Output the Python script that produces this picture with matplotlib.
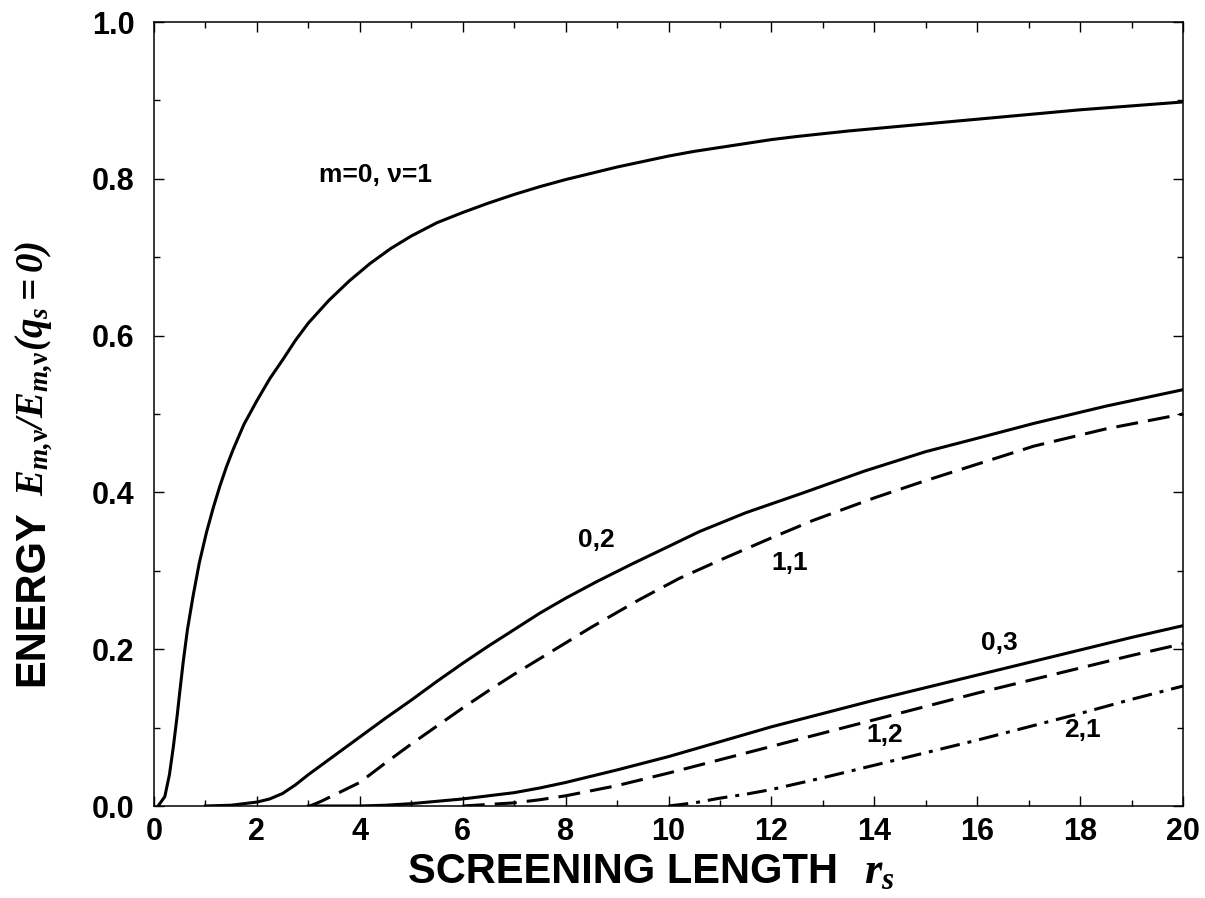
import matplotlib
matplotlib.use('Agg')
import matplotlib.pyplot as plt

# curvas (r_s, E/E0)
x_01 = [0.08, 0.21, 0.3, 0.375, 0.45, 0.5, 0.57, 0.65, 0.76, 0.88, 1.02, 1.15, 1.28, 1.41, 1.54, 1.75,
        2.0, 2.25, 2.5, 2.75, 3.0, 3.4, 3.8, 4.2, 4.6, 5.0, 5.5, 6.0, 6.5, 7.0, 7.5, 8.0, 8.5, 9.0,
        9.5, 10.0, 10.5, 11.0, 11.5, 12.0, 12.5, 13.5, 14.5, 15.5, 16.5, 18.0, 19.0, 20.0]
y_01 = [0.0, 0.012, 0.04, 0.075, 0.115, 0.145, 0.185, 0.225, 0.268, 0.31, 0.349, 0.38, 0.408, 0.433, 0.455, 0.487,
        0.517, 0.545, 0.569, 0.594, 0.616, 0.645, 0.67, 0.692, 0.711, 0.727, 0.744, 0.757, 0.769, 0.78, 0.79, 0.799, 0.807, 0.815,
        0.822, 0.829, 0.835, 0.840, 0.845, 0.850, 0.854, 0.861, 0.867, 0.873, 0.879, 0.888, 0.893, 0.898]

x_02 = [1.0, 1.5, 2.0, 2.25, 2.5, 2.75, 3.0, 3.5, 4.0, 4.5, 5.0, 5.5, 6.0, 6.5, 7.0, 7.5, 8.0, 8.6,
        9.3, 10.0, 10.6, 11.5, 12.6, 13.8, 15.0, 16.0, 17.1, 18.5, 20.0]
y_02 = [0.0, 0.001, 0.005, 0.009, 0.016, 0.027, 0.04, 0.064, 0.088, 0.112, 0.135, 0.159, 0.182, 0.204, 0.225, 0.246, 0.265, 0.286,
        0.309, 0.331, 0.350, 0.374, 0.399, 0.427, 0.452, 0.469, 0.488, 0.51, 0.531]

x_11 = [3.03, 3.25, 3.5, 4.0, 4.5, 5.0, 5.5, 6.0, 6.5, 7.0, 7.7, 8.5, 9.4, 10.2, 11.05, 12.0, 12.8, 14.0,
        14.95, 16.0, 17.1, 18.5, 20.0]
y_11 = [0.0, 0.006, 0.014, 0.03, 0.055, 0.079, 0.102, 0.125, 0.147, 0.168, 0.196, 0.228, 0.262, 0.29, 0.315, 0.342, 0.364, 0.393,
        0.414, 0.436, 0.459, 0.481, 0.50]

x_03 = [3.0, 4.0, 4.5, 5.0, 5.5, 6.0, 6.5, 7.0, 7.5, 8.0, 9.0, 10.0, 11.0, 12.0, 13.0, 14.0, 15.0, 16.0,
        17.0, 18.0, 19.0, 20.0]
y_03 = [0.0, 0.0, 0.001, 0.003, 0.006, 0.009, 0.013, 0.017, 0.023, 0.03, 0.046, 0.063, 0.082, 0.101, 0.118, 0.135, 0.151, 0.167,
        0.183, 0.199, 0.215, 0.23]

x_12 = [6.0, 6.5, 7.0, 7.5, 8.0, 9.0, 10.0, 11.0, 12.0, 13.0, 14.0, 15.0, 16.0, 17.0, 18.0, 19.0, 20.0]
y_12 = [0.0, 0.002, 0.004, 0.008, 0.013, 0.026, 0.042, 0.059, 0.076, 0.093, 0.110, 0.127, 0.144, 0.160, 0.176, 0.192, 0.207]

x_21 = [10.0, 10.5, 11.0, 11.5, 12.0, 13.0, 14.0, 15.0, 16.0, 17.0, 18.0, 19.0, 20.0]
y_21 = [0.0, 0.004, 0.01, 0.015, 0.021, 0.036, 0.052, 0.068, 0.084, 0.101, 0.118, 0.136, 0.153]

rotulos = ['m=0, \u03bd=1', '0,2', '1,1', '0,3', '1,2', '2,1']
pos_rotulos = [(4.31, 0.805), (8.6, 0.339), (12.35, 0.310), (16.43, 0.208), (14.2, 0.090), (18.04, 0.097)]

plt.rcParams['font.family'] = ['Liberation Sans', 'DejaVu Sans']
plt.rcParams['font.weight'] = 'bold'
plt.rcParams['mathtext.fontset'] = 'custom'
plt.rcParams['mathtext.it'] = 'Liberation Serif:italic:bold'
plt.rcParams['mathtext.rm'] = 'Liberation Serif:italic:bold'
plt.rcParams['mathtext.sf'] = 'Liberation Serif:bold'

W, H = 1205, 898
fig = plt.figure(figsize=(W / 100, H / 100), dpi=100)
ax = fig.add_axes([154 / W, 1 - 806 / H, 1029 / W, 784 / H])

lw = 2.2
tracejado = (0, (7.2, 3.3))
ax.plot(x_01, y_01, color='black', lw=lw)
ax.plot(x_02, y_02, color='black', lw=lw)
ax.plot(x_11, y_11, color='black', lw=lw, linestyle=tracejado)
ax.plot(x_03, y_03, color='black', lw=lw)
ax.plot(x_12, y_12, color='black', lw=lw, linestyle=tracejado)
ax.plot(x_21, y_21, color='black', lw=lw, linestyle=(0, (6.5, 2.6, 1.3, 2.6)))

ax.set_xlim(0, 20)
ax.set_ylim(0, 1.0)
ax.set_xticks(range(0, 21, 2))
ax.set_xticks(range(0, 21, 1), minor=True)
ax.set_yticks([0.0, 0.2, 0.4, 0.6, 0.8, 1.0])
ax.set_yticks([i / 10 for i in range(11)], minor=True)
ax.set_yticklabels(['0.0', '0.2', '0.4', '0.6', '0.8', '1.0'])
ax.tick_params(which='both', direction='in', top=True, right=True, width=1)
ax.tick_params(which='major', length=7.2, labelsize=22)
ax.tick_params(which='minor', length=4.3)
ax.tick_params(axis='y', pad=14)
ax.tick_params(axis='x', pad=8)
for s in ax.spines.values():
    s.set_linewidth(1.1)

# rotulos das curvas
for (px, py), txt in zip(pos_rotulos, rotulos):
    ax.text(px, py, txt, fontsize=19, ha='center', va='center', fontweight='bold')

# eixo x
fig.text(838 / W, 1 - 883 / H, 'SCREENING LENGTH', fontsize=30, ha='right', va='baseline')
fig.text(864 / W, 1 - 883 / H, r'$r_s$', fontsize=32, ha='left', va='baseline')

# eixo y: parte matematica presa no topo, ENERGY logo abaixo
t_math = fig.text(43 / W, 1 - 241 / H,
                  r'$E_{m{,}\mathsf{\nu}}/E_{m{,}\mathsf{\nu}}(q_s{=}0)$',
                  fontsize=28, rotation=90, rotation_mode='anchor', ha='right', va='baseline')
r = fig.canvas.get_renderer()
bb = t_math.get_window_extent(r)
y_ini = bb.y0 - 14
fig.text(43 / W, y_ini / H, 'ENERGY', fontsize=30, rotation=90, rotation_mode='anchor',
         ha='right', va='baseline')

fig.savefig('out.png', dpi=100)
